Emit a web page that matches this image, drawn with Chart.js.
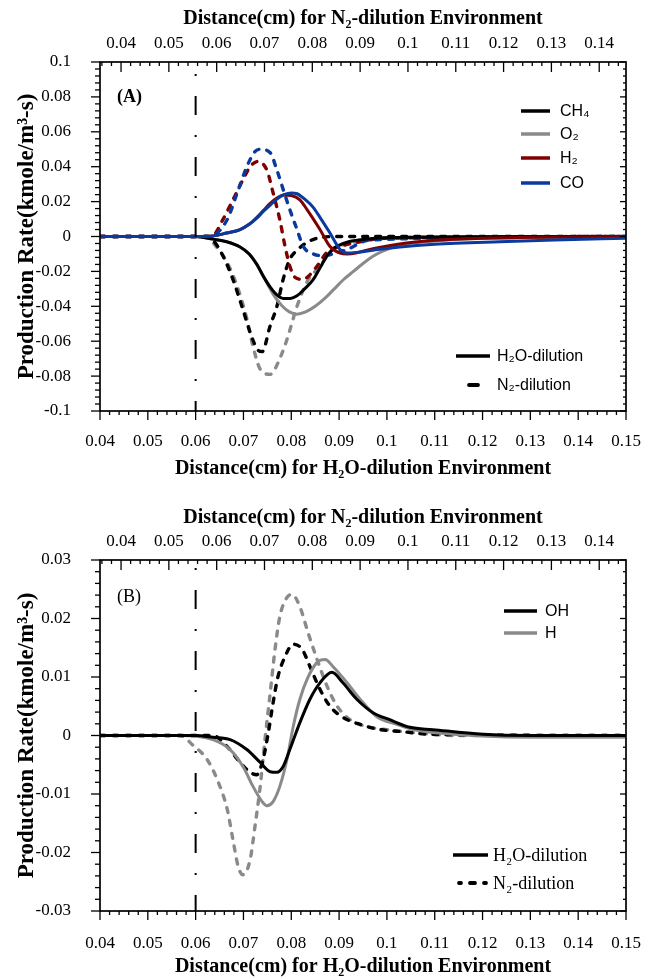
<!DOCTYPE html>
<html>
<head>
<meta charset="utf-8">
<script src="https://cdn.jsdelivr.net/npm/chart.js@4.4.0/dist/chart.umd.min.js"></script>
<style>
  html, body { margin: 0; padding: 0; background: #fff; }
  #wrap { position: relative; width: 661px; height: 979px; overflow: hidden; background: #fff; }
  canvas { position: absolute; left: 0; }
  #cA { top: 0; }
  #cB { top: 495px; }
</style>
</head>
<body>
<div id="wrap">
  <canvas id="cA" width="661" height="484"></canvas>
  <canvas id="cB" width="661" height="484"></canvas>
</div>
<script>
// ---------- axes / tick values ----------
const xTicksH2O = [0.04, 0.05, 0.06, 0.07, 0.08, 0.09, 0.10, 0.11, 0.12, 0.13, 0.14, 0.15];
const xTicksN2  = [0.04, 0.05, 0.06, 0.07, 0.08, 0.09, 0.10, 0.11, 0.12, 0.13, 0.14];
const yTicksA = [-0.1, -0.08, -0.06, -0.04, -0.02, 0, 0.02, 0.04, 0.06, 0.08, 0.1];
const yTicksB = [-0.03, -0.02, -0.01, 0, 0.01, 0.02, 0.03];
const xRangeH2O = [0.04, 0.15];
const xRangeN2 = [0.0356, 0.1456];   // N2-dilution distance axis, shifted against the H2O axis
const flameFrontX = 0.06;

// ---------- panel A: CH4, O2, H2, CO ----------
// H2O-dilution (solid lines, bottom axis)
const ch4H2oX = [0.04, 0.0600, 0.0636, 0.0665, 0.0693, 0.0712, 0.0728, 0.0742, 0.0756, 0.0770, 0.0783, 0.0798, 0.0812, 0.0828, 0.0845, 0.0860, 0.0875, 0.0886, 0.0896, 0.0920, 0.0958, 0.105, 0.15];
const ch4H2oY = [0, 0, -0.0015, -0.003, -0.006, -0.010, -0.016, -0.023, -0.029, -0.0335, -0.0355, -0.0355, -0.034, -0.030, -0.025, -0.018, -0.011, -0.0075, -0.0055, -0.003, -0.0015, -0.0005, 0];
const o2H2oX = [0.04, 0.0600, 0.0636, 0.0665, 0.0693, 0.0712, 0.0728, 0.0742, 0.0762, 0.0780, 0.0796, 0.0812, 0.0830, 0.0850, 0.0870, 0.0890, 0.0910, 0.0930, 0.0950, 0.0970, 0.0990, 0.1027, 0.1090, 0.1195, 0.135, 0.15];
const o2H2oY = [0, 0, -0.0015, -0.003, -0.006, -0.010, -0.016, -0.023, -0.033, -0.0395, -0.0432, -0.0445, -0.0432, -0.040, -0.0355, -0.030, -0.0245, -0.020, -0.0155, -0.0115, -0.0085, -0.005, -0.0028, -0.0012, -0.0004, 0];
const h2H2oX = [0.04, 0.0600, 0.0636, 0.0665, 0.0693, 0.0712, 0.0728, 0.0742, 0.0756, 0.0770, 0.0785, 0.0800, 0.0818, 0.0833, 0.0860, 0.0881, 0.0902, 0.0917, 0.0935, 0.0958, 0.0990, 0.105, 0.115, 0.13, 0.15];
const h2H2oY = [0, 0, 0.0003, 0.002, 0.004, 0.007, 0.011, 0.015, 0.019, 0.022, 0.0238, 0.0235, 0.021, 0.0154, 0.004, -0.0057, -0.0095, -0.010, -0.0095, -0.0078, -0.006, -0.0035, -0.0015, -0.0005, 0];
const coH2oX = [0.04, 0.0600, 0.0636, 0.0665, 0.0693, 0.0712, 0.0728, 0.0742, 0.0756, 0.0770, 0.0785, 0.0800, 0.0812, 0.0830, 0.0845, 0.0860, 0.0881, 0.0902, 0.0917, 0.0940, 0.0980, 0.1027, 0.110, 0.1236, 0.135, 0.15];
const coH2oY = [0, 0, 0.0003, 0.002, 0.004, 0.007, 0.0105, 0.0145, 0.018, 0.0215, 0.024, 0.025, 0.0245, 0.021, 0.017, 0.011, 0.002, -0.0074, -0.0095, -0.009, -0.0075, -0.006, -0.0045, -0.003, -0.002, -0.001];
// N2-dilution (dashed lines, top axis)
const ch4N2X = [0.0356, 0.058, 0.0592, 0.0613, 0.0634, 0.0655, 0.0670, 0.0686, 0.0695, 0.0712, 0.0726, 0.0739, 0.0753, 0.0770, 0.0789, 0.0816, 0.085, 0.1456];
const ch4N2Y = [0, 0, -0.002, -0.011, -0.0246, -0.042, -0.055, -0.065, -0.066, -0.051, -0.040, -0.0246, -0.013, -0.0074, -0.0034, -0.0006, 0, 0];
const o2N2X = [0.0356, 0.058, 0.0592, 0.0622, 0.0643, 0.0663, 0.0676, 0.0691, 0.0712, 0.0732, 0.0747, 0.0768, 0.0789, 0.0816, 0.0843, 0.0885, 0.093, 0.100, 0.1456];
const o2N2Y = [0, 0, -0.0034, -0.015, -0.0286, -0.047, -0.063, -0.076, -0.079, -0.070, -0.059, -0.040, -0.026, -0.017, -0.0074, -0.0034, -0.0015, -0.0005, 0];
const h2N2X = [0.0356, 0.058, 0.0592, 0.0613, 0.0634, 0.0655, 0.0670, 0.0686, 0.0705, 0.0718, 0.0732, 0.0743, 0.0753, 0.0764, 0.0781, 0.0791, 0.0810, 0.0831, 0.0858, 0.0894, 0.095, 0.1456];
const h2N2Y = [0, 0, 0.0005, 0.0097, 0.021, 0.0326, 0.040, 0.043, 0.038, 0.025, 0.0097, -0.0057, -0.017, -0.0234, -0.0246, -0.023, -0.017, -0.009, -0.0057, -0.0034, -0.001, 0];
const coN2X = [0.0356, 0.058, 0.0592, 0.0622, 0.0643, 0.0663, 0.0680, 0.0691, 0.0712, 0.0726, 0.0739, 0.0753, 0.0768, 0.0781, 0.0802, 0.0822, 0.0843, 0.0873, 0.092, 0.1456];
const coN2Y = [0, 0, 0.0005, 0.0097, 0.025, 0.040, 0.0486, 0.050, 0.048, 0.038, 0.027, 0.0154, 0.004, -0.0057, -0.010, -0.011, -0.010, -0.0074, -0.002, 0];

// ---------- panel B: OH, H ----------
const ohH2oX = [0.04, 0.0600, 0.0636, 0.0672, 0.0707, 0.0735, 0.0756, 0.0770, 0.0783, 0.0797, 0.0818, 0.0839, 0.0860, 0.0885, 0.0908, 0.0937, 0.0971, 0.1006, 0.1048, 0.1096, 0.1201, 0.13, 0.15];
const ohH2oY = [0, 0, -0.0003, -0.0007, -0.0024, -0.0046, -0.0062, -0.0063, -0.0053, -0.0024, 0.0022, 0.0062, 0.009, 0.0108, 0.009, 0.0062, 0.0039, 0.0027, 0.0014, 0.001, 0.0002, 0, 0];
const hH2oX = [0.04, 0.0567, 0.0636, 0.0672, 0.0699, 0.0720, 0.0739, 0.0749, 0.0762, 0.0776, 0.0791, 0.0804, 0.0818, 0.0833, 0.0854, 0.0871, 0.0887, 0.0917, 0.0944, 0.0979, 0.1021, 0.1055, 0.1096, 0.1305, 0.15];
const hH2oY = [0, 0, -0.0007, -0.0024, -0.0053, -0.0087, -0.0113, -0.012, -0.0113, -0.0087, -0.0041, 0.0015, 0.0062, 0.0096, 0.0125, 0.013, 0.0118, 0.009, 0.0062, 0.0032, 0.0019, 0.001, 0.0005, -0.0003, -0.0003];
const ohN2X = [0.0356, 0.058, 0.0592, 0.0622, 0.0649, 0.0670, 0.0684, 0.0697, 0.0707, 0.0718, 0.0728, 0.0743, 0.0760, 0.0779, 0.0795, 0.0816, 0.0837, 0.0864, 0.0900, 0.0942, 0.0983, 0.105, 0.1456];
const ohN2Y = [0, 0, 0, -0.0019, -0.0046, -0.0063, -0.0067, -0.0041, 0, 0.0056, 0.010, 0.0135, 0.0156, 0.0147, 0.0118, 0.0079, 0.005, 0.0031, 0.0019, 0.001, 0.0007, 0.0002, 0];
const hN2X = [0.0356, 0.0523, 0.0551, 0.0580, 0.0601, 0.0622, 0.0634, 0.0645, 0.0655, 0.0670, 0.0680, 0.0691, 0.0701, 0.0712, 0.0722, 0.0732, 0.0747, 0.0758, 0.0774, 0.0791, 0.0810, 0.0831, 0.0852, 0.0879, 0.0914, 0.0956, 0.1011, 0.11, 0.1456];
const hN2Y = [0, 0, -0.0017, -0.0041, -0.0075, -0.0126, -0.0178, -0.0224, -0.0238, -0.0212, -0.0156, -0.0087, -0.0007, 0.0073, 0.0147, 0.0203, 0.0236, 0.0241, 0.022, 0.0176, 0.013, 0.0084, 0.005, 0.0027, 0.0015, 0.001, 0.0005, 0, 0];

// ---------- labels ----------
const speciesA = ['CH₄', 'O₂', 'H₂', 'CO'];
const speciesB = ['OH', 'H'];
const dilutionLabels = ['H₂O-dilution', 'N₂-dilution'];
const topTitle = 'Distance(cm) for N₂-dilution Environment';
const bottomTitle = 'Distance(cm) for H₂O-dilution Environment';
const yTitle = 'Production Rate(kmole/m³-s)';

const BLACK = '#000000', GRAY = '#8a8a8a', RED = '#7f0000', BLUE = '#0a3a9e';
const SERIF = '"Liberation Serif", "Times New Roman", serif';
const SANS = '"Liberation Sans", Arial, sans-serif';

const pts = (xs, ys) => xs.map((x, i) => ({x, y: ys[i]}));
const fmt = v => String(+Number(v).toFixed(4));

function solid(xs, ys, color) {
  return {data: pts(xs, ys), xAxisID: 'x', borderColor: color, borderWidth: 3,
          cubicInterpolationMode: 'monotone', pointRadius: 0, fill: false};
}
function dashed(xs, ys, color) {
  return {data: pts(xs, ys), xAxisID: 'x2', borderColor: color, borderWidth: 3.4,
          borderDash: [5, 8], borderCapStyle: 'round',
          cubicInterpolationMode: 'monotone', pointRadius: 0, fill: false};
}

// ticks, frame, marker line, legends and panel tag
const decorPlugin = {
  id: 'decor',
  afterDraw(chart, args, o) {
    const {ctx, chartArea: a, scales} = chart;
    const sx = scales.x, sx2 = scales.x2, sy = scales.y;
    ctx.save();
    ctx.strokeStyle = '#000';
    ctx.lineCap = 'butt';

    const isMajor = (v, majors) => majors.some(m => Math.abs(m - v) < 1e-7);
    const minorVals = (min, max, step) => {
      const out = [];
      for (let i = Math.ceil(min / step - 1e-6); i * step <= max + 1e-9; i++) out.push(+(i * step).toFixed(6));
      return out;
    };
    const seg = (x1, y1, x2, y2, w) => {
      ctx.lineWidth = w; ctx.beginPath(); ctx.moveTo(x1, y1); ctx.lineTo(x2, y2); ctx.stroke();
    };

    // bottom axis: ticks pointing outward
    minorVals(xRangeH2O[0], xRangeH2O[1], 0.002).forEach(v => {
      const p = sx.getPixelForValue(v);
      const len = isMajor(v, xTicksH2O) ? 9 : 4;
      seg(p, a.bottom, p, a.bottom + len, 1.3);
    });
    // top axis: ticks pointing into the plot
    minorVals(xRangeN2[0], xRangeN2[1], 0.002).forEach(v => {
      const p = sx2.getPixelForValue(v);
      const len = isMajor(v, xTicksN2) ? 10 : 4;
      seg(p, a.top, p, a.top + len, 1.3);
    });
    // left (outward) and right (inward) ticks
    minorVals(sy.min, sy.max, o.yMinor).forEach(v => {
      const p = sy.getPixelForValue(v);
      const major = isMajor(v, o.yMajors);
      seg(a.left, p, a.left - (major ? 9 : 5), p, 1.3);
      seg(a.right, p, a.right - (major ? 6 : 3), p, 1.3);
    });

    // frame
    ctx.lineWidth = 1.7;
    ctx.strokeRect(a.left, a.top, a.right - a.left, a.bottom - a.top);

    // dash-dot marker at x = 0.06 (H2O axis)
    const fx = sx.getPixelForValue(flameFrontX);
    ctx.setLineDash([19, 20, 2, 20]);
    ctx.lineDashOffset = o.dashOffset;
    seg(fx, a.top, fx, a.bottom, 2);
    ctx.setLineDash([]);

    // panel tag
    ctx.fillStyle = '#000';
    ctx.textBaseline = 'middle';
    ctx.textAlign = 'left';
    ctx.font = o.tag.font;
    ctx.fillText(o.tag.text, o.tag.x, o.tag.y);

    // legends
    o.legend.forEach(it => {
      ctx.strokeStyle = it.color;
      ctx.lineCap = it.dash ? 'round' : 'butt';
      ctx.setLineDash(it.dash || []);
      seg(it.x0, it.y, it.x1, it.y, it.w);
      ctx.setLineDash([]);
      ctx.fillStyle = '#000';
      ctx.font = it.font;
      ctx.fillText(it.label, it.tx, it.y + 1);
    });
    ctx.restore();
  }
};

function makePanel(canvasId, cfg) {
  const H = cfg.height;
  return new Chart(document.getElementById(canvasId).getContext('2d'), {
    type: 'line',
    data: {datasets: cfg.datasets},
    options: {
      responsive: false, animation: false, devicePixelRatio: 1,
      layout: {padding: {left: 0, right: 35, top: 0, bottom: 0}},
      plugins: {legend: {display: false}, tooltip: {enabled: false}, decor: cfg.decor},
      elements: {point: {radius: 0}},
      scales: {
        x: {
          type: 'linear', position: 'bottom', min: xRangeH2O[0], max: xRangeH2O[1],
          afterBuildTicks: s => { s.ticks = xTicksH2O.map(v => ({value: v})); },
          afterFit: s => { s.height = H - cfg.plotBottom; },
          grid: {display: false}, border: {display: false},
          ticks: {color: '#000', font: {family: SERIF, size: 17}, padding: cfg.bottomTickPad, callback: fmt, maxRotation: 0, autoSkip: false},
          title: {display: true, text: bottomTitle, color: '#000', font: {family: SERIF, size: 20, weight: 'bold'}, padding: {top: 0, bottom: cfg.bottomTitlePad}}
        },
        x2: {
          type: 'linear', position: 'top', min: xRangeN2[0], max: xRangeN2[1],
          afterBuildTicks: s => { s.ticks = xTicksN2.map(v => ({value: v})); },
          afterFit: s => { s.height = cfg.plotTop; },
          grid: {display: false}, border: {display: false},
          ticks: {color: '#000', font: {family: SERIF, size: 17}, padding: 0, callback: fmt, maxRotation: 0, autoSkip: false},
          title: {display: true, text: topTitle, color: '#000', font: {family: SERIF, size: 20, weight: 'bold'}, padding: {top: cfg.topTitlePad, bottom: 0}}
        },
        y: {
          type: 'linear', position: 'left', min: cfg.yMin, max: cfg.yMax,
          afterBuildTicks: s => { s.ticks = cfg.yTicks.map(v => ({value: v})); },
          afterFit: s => { s.width = 100; },
          grid: {display: false}, border: {display: false},
          ticks: {color: '#000', font: {family: SERIF, size: 17}, padding: 21, callback: fmt, autoSkip: false},
          title: {display: true, text: yTitle, color: '#000', font: {family: SERIF, size: 23, weight: 'bold'}, padding: {top: 13, bottom: 0}}
        }
      }
    },
    plugins: [decorPlugin]
  });
}

// Panel A
makePanel('cA', {
  height: 484, plotTop: 62, plotBottom: 411, bottomTickPad: 12, bottomTitlePad: 3, topTitlePad: 7,
  yMin: -0.1, yMax: 0.1, yTicks: yTicksA,
  datasets: [
    solid(coH2oX, coH2oY, BLUE), solid(h2H2oX, h2H2oY, RED),
    solid(ch4H2oX, ch4H2oY, BLACK), solid(o2H2oX, o2H2oY, GRAY),
    dashed(coN2X, coN2Y, BLUE), dashed(h2N2X, h2N2Y, RED),
    dashed(ch4N2X, ch4N2Y, BLACK), dashed(o2N2X, o2N2Y, GRAY)
  ],
  decor: {
    yMinor: 0.004, yMajors: yTicksA, dashOffset: 27,
    tag: {text: '(A)', x: 117, y: 97, font: 'bold 18px ' + SERIF},
    legend: [
      {label: speciesA[0], color: BLACK, x0: 521, x1: 550, y: 111, w: 3.5, tx: 560, font: '16px ' + SANS},
      {label: speciesA[1], color: GRAY,  x0: 521, x1: 550, y: 134, w: 3.5, tx: 560, font: '16px ' + SANS},
      {label: speciesA[2], color: RED,   x0: 521, x1: 550, y: 158, w: 3.5, tx: 560, font: '16px ' + SANS},
      {label: speciesA[3], color: BLUE,  x0: 521, x1: 550, y: 183, w: 3.5, tx: 560, font: '16px ' + SANS},
      {label: dilutionLabels[0], color: BLACK, x0: 456, x1: 490, y: 356, w: 3.5, tx: 497, font: '16px ' + SANS},
      {label: dilutionLabels[1], color: BLACK, x0: 460, x1: 487, y: 385, w: 3.8, tx: 497, font: '16px ' + SANS, dash: [9, 9]}
    ]
  }
});

// Panel B
makePanel('cB', {
  height: 484, plotTop: 65, plotBottom: 416, bottomTickPad: 14, bottomTitlePad: 0, topTitlePad: 11,
  yMin: -0.03, yMax: 0.03, yTicks: yTicksB,
  datasets: [
    solid(ohH2oX, ohH2oY, BLACK), solid(hH2oX, hH2oY, GRAY),
    dashed(ohN2X, ohN2Y, BLACK), dashed(hN2X, hN2Y, GRAY)
  ],
  decor: {
    yMinor: 0.002, yMajors: yTicksB, dashOffset: 31,
    tag: {text: '(B)', x: 117, y: 102, font: '18px ' + SERIF},
    legend: [
      {label: speciesB[0], color: BLACK, x0: 504, x1: 537, y: 116, w: 3.5, tx: 545, font: '16px ' + SANS},
      {label: speciesB[1], color: GRAY,  x0: 504, x1: 537, y: 138, w: 3.5, tx: 545, font: '16px ' + SANS},
      {label: dilutionLabels[0], color: BLACK, x0: 453, x1: 488, y: 360, w: 3.5, tx: 493, font: '18px ' + SERIF},
      {label: dilutionLabels[1], color: BLACK, x0: 459, x1: 486, y: 388, w: 3.8, tx: 493, font: '18px ' + SERIF, dash: [5, 9]}
    ]
  }
});
</script>
</body>
</html>
